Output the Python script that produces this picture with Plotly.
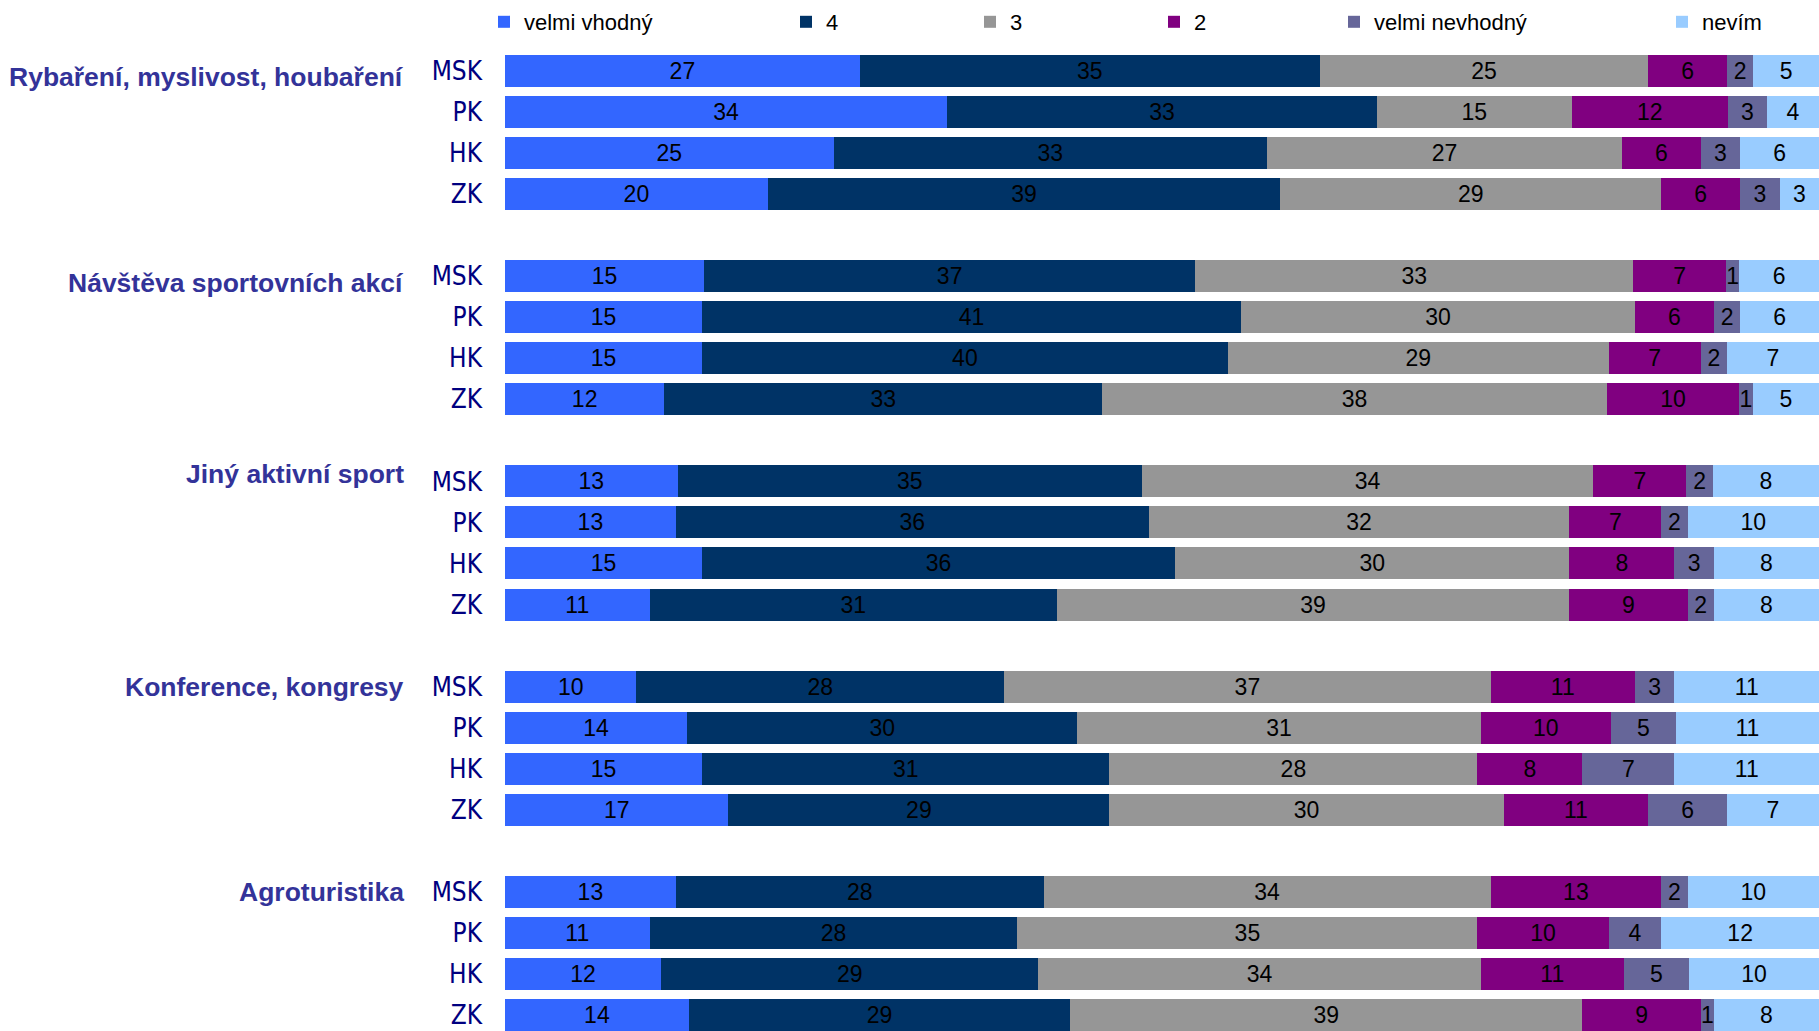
import plotly.graph_objects as go

# ---- data ----
groups = ["Rybaření, myslivost, houbaření", "Návštěva sportovních akcí",
          "Jiný aktivní sport", "Konference, kongresy", "Agroturistika"]
regions = ["MSK", "PK", "HK", "ZK"]
levels = ["velmi vhodný", "4", "3", "2", "velmi nevhodný", "nevím"]

velmi_vhodny   = [27, 34, 25, 20, 15, 15, 15, 12, 13, 13, 15, 11, 10, 14, 15, 17, 13, 11, 12, 14]
ctyri          = [35, 33, 33, 39, 37, 41, 40, 33, 35, 36, 36, 31, 28, 30, 31, 29, 28, 28, 29, 29]
tri            = [25, 15, 27, 29, 33, 30, 29, 38, 34, 32, 30, 39, 37, 31, 28, 30, 34, 35, 34, 39]
dva            = [6, 12, 6, 6, 7, 6, 7, 10, 7, 7, 8, 9, 11, 10, 8, 11, 13, 10, 11, 9]
velmi_nevhodny = [2, 3, 3, 3, 1, 2, 2, 1, 2, 2, 3, 2, 3, 5, 7, 6, 2, 4, 5, 1]
nevim          = [5, 4, 6, 3, 6, 6, 7, 5, 8, 10, 8, 8, 11, 11, 11, 7, 10, 12, 10, 8]

series = [velmi_vhodny, ctyri, tri, dva, velmi_nevhodny, nevim]
colors = ["#3366FF", "#003366", "#969696", "#800080", "#666699", "#99CCFF"]

# ---- layout helpers ----
W, H = 1819, 1031
L, T = 505, 40
slot = 41.04
y_pos = [g * 5 + r for g in range(len(groups)) for r in range(len(regions))]
y_labels = [regions[r] for g in range(len(groups)) for r in range(len(regions))]

fig = go.Figure()
legend_text_x = [524, 826, 1010, 1194, 1374, 1702]
for i, (name, vals, col) in enumerate(zip(levels, series, colors)):
    lg = "legend" if i == 0 else f"legend{i+1}"
    fig.add_trace(go.Bar(
        x=vals, y=y_pos, orientation="h", name=name,
        marker=dict(color=col, line=dict(width=0)),
        text=[str(v) for v in vals], textposition="inside",
        insidetextanchor="middle", textangle=0,
        textfont=dict(family="Liberation Sans, Arial, sans-serif", size=23, color="black"),
        legend=lg, hoverinfo="x+y+name",
    ))
    fig.update_layout({lg: dict(
        x=(legend_text_x[i] - 40) / W, xref="container", xanchor="left",
        y=1 - 22 / H, yref="container", yanchor="middle",
        bgcolor="rgba(0,0,0,0)", borderwidth=0,
        font=dict(family="Liberation Sans, Arial, sans-serif", size=22, color="black"),
        itemwidth=30,
    )})

y_top = -(71 - T) / slot
y_bot = y_top + (H - T) / slot

group_shift = [-6, -7, 7, 0, 0]
annotations = []
for g, name in enumerate(groups):
    annotations.append(dict(
        text=f"<b>{name}</b>", x=(406 - L) / (W - L), xref="paper", xanchor="right",
        y=g * 5, yref="y", yanchor="middle", yshift=group_shift[g], showarrow=False,
        font=dict(family="Liberation Sans, Arial, sans-serif", size=26.5, color="#333399"),
    ))

fig.update_layout(
    width=W, height=H, barmode="stack", barnorm="percent", bargap=0.22,
    plot_bgcolor="white", paper_bgcolor="white",
    margin=dict(l=L, r=0, t=T, b=0, autoexpand=False),
    showlegend=True,
    xaxis=dict(range=[0, 100], visible=False, fixedrange=True),
    yaxis=dict(range=[y_bot, y_top], tickvals=y_pos, ticktext=y_labels,
               showgrid=False, zeroline=False, showline=False, ticks="",
               ticklabelstandoff=22,
               tickfont=dict(family="DejaVu Sans Condensed, Liberation Sans, sans-serif",
                             size=26, color="#000080")),
    annotations=annotations,
    uniformtext=dict(minsize=23, mode="show"),
)

fig.write_html("out.html", config={"displayModeBar": False},
               post_script="document.body.style.margin='0';document.body.style.overflow='hidden';")
